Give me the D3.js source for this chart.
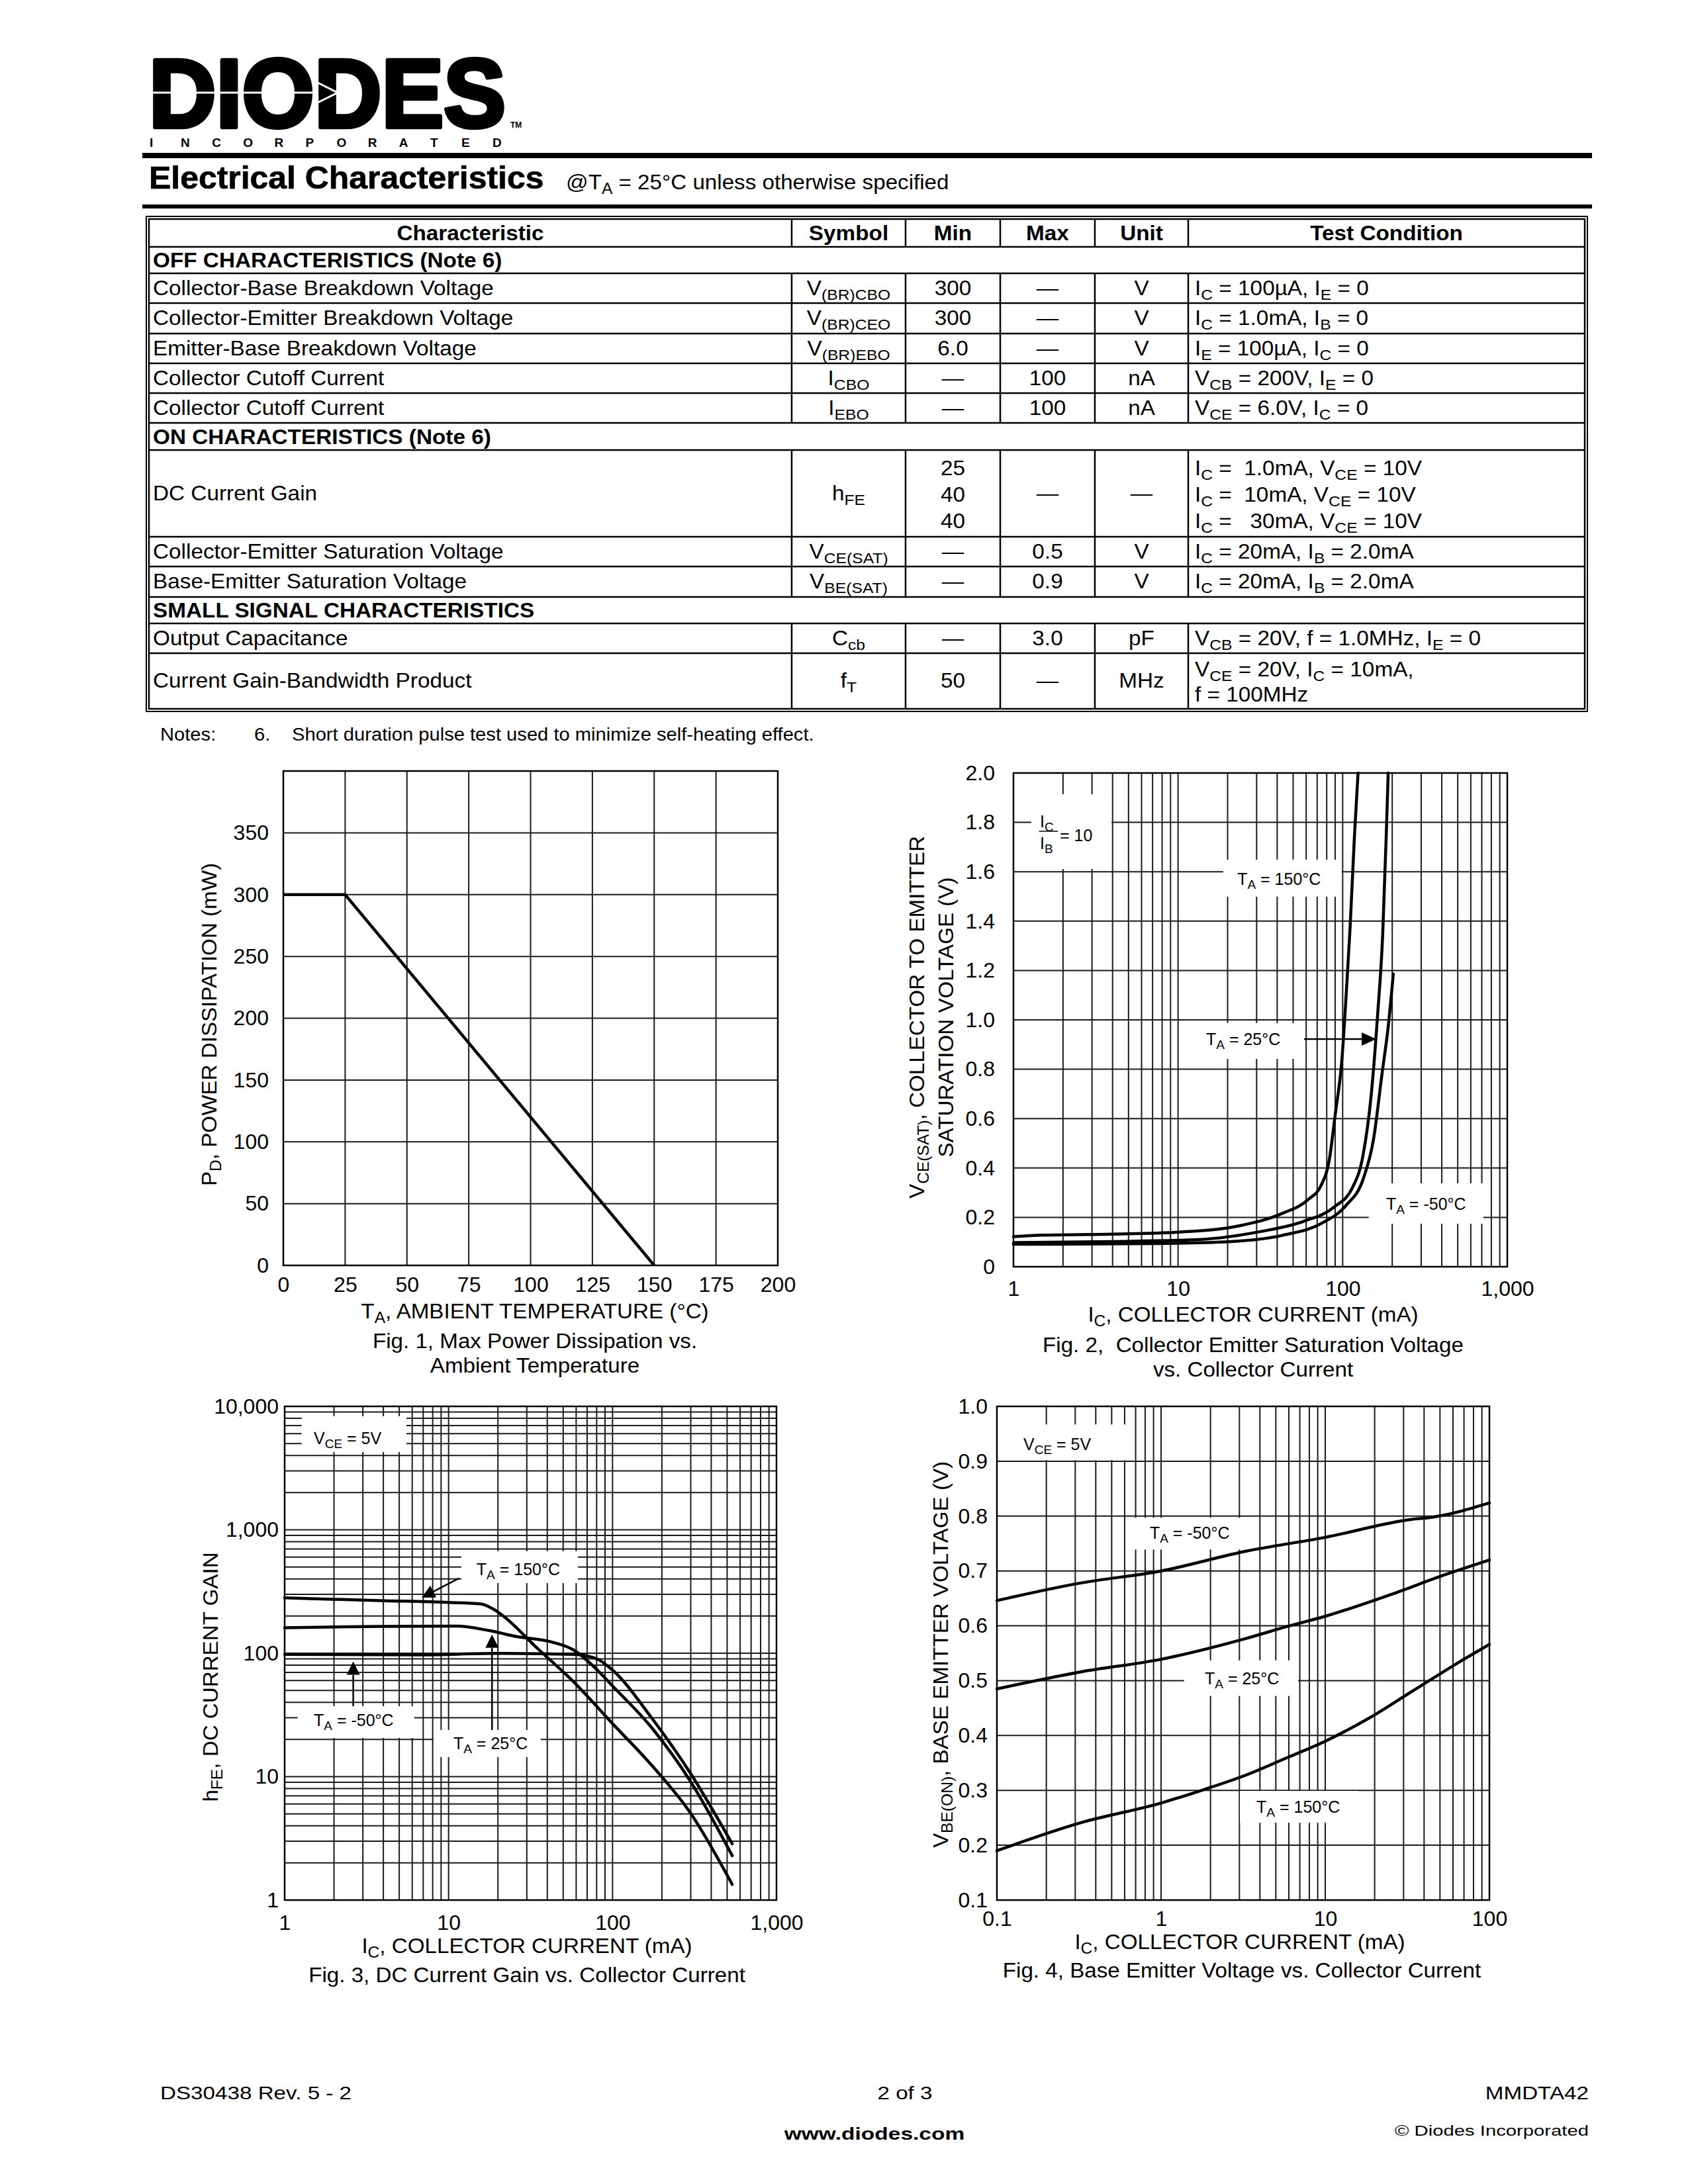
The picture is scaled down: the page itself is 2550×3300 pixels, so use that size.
<!DOCTYPE html>
<html><head><meta charset="utf-8">
<script src="https://cdn.jsdelivr.net/npm/d3@7"></script>
<style>
html,body{margin:0;padding:0;background:#fff;}
svg{display:block;}
text{font-family:"Liberation Sans",Arial,Helvetica,sans-serif;fill:#000;}
</style></head><body>
<svg id="page" width="2550" height="3300"></svg>
<script>
// ---------------- DATA ----------------
const tableHeaders = ["Characteristic","Symbol","Min","Max","Unit","Test Condition"];
const sectionTitles = ["OFF CHARACTERISTICS (Note 6)","ON CHARACTERISTICS (Note 6)","SMALL SIGNAL CHARACTERISTICS"];
const characteristics = ["Collector-Base Breakdown Voltage","Collector-Emitter Breakdown Voltage","Emitter-Base Breakdown Voltage","Collector Cutoff Current","Collector Cutoff Current","DC Current Gain","Collector-Emitter Saturation Voltage","Base-Emitter Saturation Voltage","Output Capacitance","Current Gain-Bandwidth Product"];
const symbols = [["V",["(BR)CBO"]],["V",["(BR)CEO"]],["V",["(BR)EBO"]],["I",["CBO"]],["I",["EBO"]],["h",["FE"]],["V",["CE(SAT)"]],["V",["BE(SAT)"]],["C",["cb"]],["f",["T"]]];
const minValues = [["300"],["300"],["6.0"],["—"],["—"],["25","40","40"],["—"],["—"],["—"],["50"]];
const maxValues = ["—","—","—","100","100","—","0.5","0.9","3.0","—"];
const units = ["V","V","V","nA","nA","—","V","V","pF","MHz"];
const testConditions = [
  [["I",["C"]," = 100µA, I",["E"]," = 0"]],
  [["I",["C"]," = 1.0mA, I",["B"]," = 0"]],
  [["I",["E"]," = 100µA, I",["C"]," = 0"]],
  [["V",["CB"]," = 200V, I",["E"]," = 0"]],
  [["V",["CE"]," = 6.0V, I",["C"]," = 0"]],
  [["I",["C"]," =  1.0mA, V",["CE"]," = 10V"],["I",["C"]," =  10mA, V",["CE"]," = 10V"],["I",["C"]," =   30mA, V",["CE"]," = 10V"]],
  [["I",["C"]," = 20mA, I",["B"]," = 2.0mA"]],
  [["I",["C"]," = 20mA, I",["B"]," = 2.0mA"]],
  [["V",["CB"]," = 20V, f = 1.0MHz, I",["E"]," = 0"]],
  [["V",["CE"]," = 20V, I",["C"]," = 10mA,"],["f = 100MHz"]]
];

// Fig 1
const fig1Temp = [0, 25, 150];
const fig1Power = [300, 300, 0];
const fig1XLabels = [0,25,50,75,100,125,150,175,200];
const fig1YLabels = [0,50,100,150,200,250,300,350];

// Fig 2  (Ic mA, VCE(sat) V)
const fig2Ic150 = [1, 1.5, 4, 10, 24, 43, 62, 74, 83, 90, 99, 105, 111, 118, 124];
const fig2V150  = [0.122, 0.128, 0.132, 0.14, 0.167, 0.216, 0.273, 0.33, 0.435, 0.614, 0.842, 1.10, 1.378, 1.75, 2.0];
const fig2Ic25  = [1, 4, 13.3, 32, 58, 88, 115, 133, 149, 163, 175, 184, 189];
const fig2V25   = [0.0975, 0.102, 0.11, 0.143, 0.184, 0.24, 0.322, 0.452, 0.695, 1.02, 1.345, 1.75, 2.0];
const fig2IcM50 = [1, 7.4, 21, 43, 74, 105, 133, 154, 173, 189, 203];
const fig2VM50  = [0.091, 0.094, 0.102, 0.127, 0.175, 0.249, 0.354, 0.517, 0.777, 0.972, 1.186];
const fig2XLabels = [1, 10, 100, 1000];
const fig2YLabels = [0,0.2,0.4,0.6,0.8,1.0,1.2,1.4,1.6,1.8,2.0];

// Fig 3  (Ic mA, hFE)
const fig3Ic150 = [1, 3.8, 10, 15.7, 18.5, 21.8, 33.7, 58, 100, 173, 298, 537];
const fig3H150  = [281, 267, 258, 251, 230, 198, 114, 58.5, 26.9, 12.4, 5.1, 1.34];
const fig3Ic25  = [1, 3.8, 11.3, 17.5, 25.6, 41.9, 58, 76.3, 100, 173, 298, 537];
const fig3H25   = [161, 165, 166, 153, 137, 124, 106, 78.6, 54.3, 25, 9.2, 2.29];
const fig3IcM50 = [1, 6.6, 19.5, 58, 80.6, 100, 173, 298, 537];
const fig3HM50  = [98, 97, 99.6, 98, 89.8, 73, 30, 10.7, 2.86];
const fig3XLabels = [1, 10, 100, 1000];
const fig3YLabels = [1, 10, 100, 1000, 10000];

// Fig 4  (Ic mA, VBE(on) V)
const fig4IcM50 = [0.1, 0.324, 1.0, 3.3, 9.9, 33.6, 44.9, 100];
const fig4VM50  = [0.646, 0.678, 0.70, 0.736, 0.761, 0.794, 0.798, 0.824];
const fig4Ic25  = [0.1, 0.324, 1.0, 3.3, 5.9, 9.9, 25.1, 53.5, 100];
const fig4V25   = [0.485, 0.516, 0.539, 0.577, 0.599, 0.617, 0.657, 0.693, 0.72];
const fig4Ic150 = [0.1, 0.324, 1.0, 1.85, 3.3, 5.9, 9.9, 18.8, 33.6, 60, 100];
const fig4V150  = [0.19, 0.241, 0.277, 0.302, 0.328, 0.36, 0.389, 0.433, 0.48, 0.527, 0.566];
const fig4XLabels = [0.1, 1, 10, 100];
const fig4YLabels = [0.1,0.2,0.3,0.4,0.5,0.6,0.7,0.8,0.9,1.0];

// ---------------- HELPERS ----------------
const FONT = '"Liberation Sans", Arial, Helvetica, sans-serif';
const svg = d3.select("#page");
svg.append("rect").attr("width",2550).attr("height",3300).attr("fill","#fff");

function rich(parent, x, y, parts, o = {}) {
  const size = o.size || 31, k = o.k || 1;
  let tr = `translate(${x},${y})`;
  if (o.rot) tr += ` rotate(${o.rot})`;
  if (k !== 1) tr += ` scale(${k},1)`;
  const t = parent.append("text").attr("transform", tr)
    .attr("text-anchor", o.anchor || "start")
    .style("font-size", size + "px")
    .style("font-weight", o.bold ? "bold" : "normal")
    .style("white-space", "pre");
  const subSize = o.subSize || Math.round(size * 0.74);
  const shift = o.subShift || Math.round(size * 0.24);
  let down = false;
  parts.forEach(p => {
    const isSub = Array.isArray(p);
    const s = t.append("tspan").text(isSub ? p[0] : p);
    if (isSub) { s.style("font-size", subSize + "px"); if (!down) { s.attr("dy", shift); down = true; } }
    else if (down) { s.attr("dy", -shift); down = false; }
  });
  return t;
}
function arrow(g, x1, y1, x2, y2, len, w) {
  const dx = x2 - x1, dy = y2 - y1, L = Math.hypot(dx, dy), ux = dx / L, uy = dy / L;
  const bx = x2 - ux * len, by = y2 - uy * len;
  g.append("line").attr("x1", x1).attr("y1", y1).attr("x2", bx).attr("y2", by)
    .attr("stroke", "#000").attr("stroke-width", 2.5);
  g.append("path").attr("d", `M${x2},${y2}L${bx - uy * w / 2},${by + ux * w / 2}L${bx + uy * w / 2},${by - ux * w / 2}Z`).attr("fill", "#000");
}

// ---------------- HEADER ----------------
const logo = svg.append("g");
logo.append("text").attr("transform", "translate(225,192) scale(1,2.92)").attr("textLength", 539).attr("lengthAdjust", "spacingAndGlyphs")
  .style("font-size", "50px").style("font-weight", "bold").attr("stroke", "#000").attr("stroke-width", 5)
  .attr("vector-effect", "non-scaling-stroke").attr("stroke-linejoin", "round").text("DIODES");
logo.append("text").attr("x", 771).attr("y", 193).style("font-size", "12px").style("font-weight", "bold").text("TM");
logo.append("text").attr("y", 222).attr("x", d3.range(12).map(i => 226 + i * 47.1).join(" "))
  .style("font-size", "19px").style("font-weight", "bold").text("INCORPORATED");
logo.append("line").attr("x1", 226).attr("x2", 478).attr("y1", 140).attr("y2", 140).attr("stroke", "#fff").attr("stroke-width", 3);
logo.append("path").attr("d", "M478,124L510,140L478,156").attr("fill", "none").attr("stroke", "#fff").attr("stroke-width", 3);
svg.append("rect").attr("x", 215).attr("y", 231).attr("width", 2190).attr("height", 8).attr("fill", "#000");
svg.append("rect").attr("x", 215).attr("y", 309).attr("width", 2190).attr("height", 6).attr("fill", "#000");
rich(svg, 225, 285, ["Electrical Characteristics"], {size: 48, bold: true, k: 1.04}).attr("stroke", "#000").attr("stroke-width", 0.7);
rich(svg, 855, 286, ["@T", ["A"], " = 25°C unless otherwise specified"], {size: 31, k: 1.07});

// ---------------- TABLE ----------------
const colX = [225, 1196, 1368, 1511, 1654, 1795, 2394];
const rowY = [331, 373, 413, 458, 504, 549, 594, 639, 680, 811, 856, 902, 942, 987, 1071];
const sectionRows = [1, 7, 11];
const dataRows = [2, 3, 4, 5, 6, 8, 9, 10, 12, 13];
const tbl = svg.append("g");
const TS = 31, TK = 1.075;
tbl.append("rect").attr("x", 221).attr("y", 327).attr("width", 2398 - 221).attr("height", 1075 - 327)
  .attr("fill", "none").attr("stroke", "#000").attr("stroke-width", 2);
tbl.append("rect").attr("x", 225).attr("y", 331).attr("width", 2394 - 225).attr("height", 1071 - 331)
  .attr("fill", "none").attr("stroke", "#000").attr("stroke-width", 2.5);
tbl.selectAll(".hl").data(rowY.slice(1, -1)).join("line").attr("x1", 225).attr("x2", 2394)
  .attr("y1", d => d).attr("y2", d => d).attr("stroke", "#000").attr("stroke-width", 2.5);
for (let r = 0; r < rowY.length - 1; r++) {
  if (sectionRows.includes(r)) continue;
  colX.slice(1, -1).forEach(cx => tbl.append("line").attr("x1", cx).attr("x2", cx).attr("y1", rowY[r]).attr("y2", rowY[r + 1])
    .attr("stroke", "#000").attr("stroke-width", 2.5));
}
const mid = r => (rowY[r] + rowY[r + 1]) / 2;
const cc = c => (colX[c] + colX[c + 1]) / 2;
tableHeaders.forEach((h, c) => rich(tbl, cc(c), mid(0) + 11, [h], {size: TS, bold: true, k: TK, anchor: "middle"}));
sectionTitles.forEach((s, i) => rich(tbl, 231, mid(sectionRows[i]) + 11, [s], {size: TS, bold: true, k: TK}));
dataRows.forEach((r, i) => {
  const base = mid(r) + 10;
  const lines = (n, sp) => d3.range(n).map(j => base + (j - (n - 1) / 2) * sp);
  const sp = r === 13 ? 38 : 40;
  rich(tbl, 231, base, [characteristics[i]], {size: TS, k: TK});
  rich(tbl, cc(1), base, symbols[i], {size: TS, k: TK, anchor: "middle", subSize: 23, subShift: 7});
  const mins = minValues[i], mb = lines(mins.length, sp);
  mins.forEach((m, j) => rich(tbl, cc(2), mb[j] + (mins.length > 1 ? 2 : 0), [m], {size: TS, k: TK, anchor: "middle"}));
  rich(tbl, cc(3), base, [maxValues[i]], {size: TS, k: TK, anchor: "middle"});
  rich(tbl, cc(4), base, [units[i]], {size: TS, k: TK, anchor: "middle"});
  const tc = testConditions[i], tb = lines(tc.length, sp);
  tc.forEach((t, j) => rich(tbl, 1805, tb[j] + (tc.length > 1 ? 2 : 0), t, {size: TS, k: TK, subSize: 23, subShift: 7}));
});
rich(svg, 242, 1119, ["Notes:"], {size: 27, k: 1.08});
rich(svg, 384, 1119, ["6."], {size: 27, k: 1.08});
rich(svg, 441, 1119, ["Short duration pulse test used to minimize self-heating effect."], {size: 27, k: 1.08});

// ---------------- CHART HELPERS ----------------
function chartBase(x, y, xGrid, yGrid) {
  const g = svg.append("g");
  const [x0, x1] = x.range(), [y0, y1] = y.range();
  g.selectAll(".vg").data(xGrid).join("line").attr("x1", d => x(d)).attr("x2", d => x(d))
    .attr("y1", y0).attr("y2", y1).attr("stroke", "#1a1a1a").attr("stroke-width", 2);
  g.selectAll(".hg").data(yGrid).join("line").attr("y1", d => y(d)).attr("y2", d => y(d))
    .attr("x1", x0).attr("x2", x1).attr("stroke", "#1a1a1a").attr("stroke-width", 2);
  return g;
}
function chartFrame(g, x, y) {
  const [x0, x1] = x.range(), [y0, y1] = y.range();
  g.append("rect").attr("x", x0).attr("y", y1).attr("width", x1 - x0).attr("height", y0 - y1)
    .attr("fill", "none").attr("stroke", "#000").attr("stroke-width", 2.5);
}
function axes(g, x, y, xl, xf, xpad, yl, yf, ypad) {
  const [x0] = x.range(), [y0] = y.range();
  const ax = g.append("g").attr("transform", `translate(0,${y0})`)
    .call(d3.axisBottom(x).tickValues(xl).tickFormat(xf).tickSize(0).tickPadding(xpad));
  const ay = g.append("g").attr("transform", `translate(${x0},0)`)
    .call(d3.axisLeft(y).tickValues(yl).tickFormat(yf).tickSize(0).tickPadding(ypad));
  [ax, ay].forEach(a => { a.select(".domain").remove(); a.attr("font-family", FONT).attr("font-size", 32); a.selectAll("text").attr("fill", "#000"); });
}
function box(g, x, y, xa, xb, ya, yb) {
  g.append("rect").attr("x", x(xa)).attr("y", y(ya)).attr("width", x(xb) - x(xa)).attr("height", y(yb) - y(ya)).attr("fill", "#fff");
}
function curve(g, x, y, xs, ys) {
  const pts = xs.map((v, i) => [v, ys[i]]);
  g.append("path").attr("d", d3.line().x(d => x(d[0])).y(d => y(d[1])).curve(d3.curveMonotoneX)(pts))
    .attr("fill", "none").attr("stroke", "#000").attr("stroke-width", 4.5).attr("stroke-linejoin", "round").attr("stroke-linecap", "round");
}
const LS = 25; // annotation label size

// ---------------- FIG 1 ----------------
{
  const x = d3.scaleLinear([0, 200], [428, 1175]);
  const y = d3.scaleLinear([0, 400], [1912, 1165]);
  const g = chartBase(x, y, d3.range(0, 201, 25), d3.range(0, 401, 50));
  chartFrame(g, x, y);
  g.append("path").attr("d", d3.line().x(d => x(d[0])).y(d => y(d[1]))(fig1Temp.map((t, i) => [t, fig1Power[i]])))
    .attr("fill", "none").attr("stroke", "#000").attr("stroke-width", 4.5);
  axes(g, x, y, fig1XLabels, d3.format("d"), 17, fig1YLabels, d3.format("d"), 22);
  rich(g, 808, 1992, ["T", ["A"], ", AMBIENT TEMPERATURE (°C)"], {anchor: "middle", k: 1.07});
  rich(g, 327, 1548, ["P", ["D"], ", POWER DISSIPATION (mW)"], {anchor: "middle", rot: -90, k: 1.07});
  rich(g, 808, 2037, ["Fig. 1, Max Power Dissipation vs."], {anchor: "middle", k: 1.07});
  rich(g, 808, 2074, ["Ambient Temperature"], {anchor: "middle", k: 1.07});
}

// ---------------- FIG 2 ----------------
{
  const x = d3.scaleLog([1, 1000], [1531, 2277]);
  const y = d3.scaleLinear([0, 2], [1914, 1168]);
  const g = chartBase(x, y, x.ticks(), d3.range(0, 11).map(i => i * 0.2));
  box(g, x, y, 1.284, 3.94, 1.914, 1.611);
  box(g, x, y, 18.8, 98.8, 1.649, 1.499);
  box(g, x, y, 11.1, 54.6, 0.987, 0.842);
  box(g, x, y, 144, 716, 0.338, 0.174);
  chartFrame(g, x, y);
  curve(g, x, y, fig2Ic150, fig2V150);
  curve(g, x, y, fig2Ic25, fig2V25);
  curve(g, x, y, fig2IcM50, fig2VM50);
  axes(g, x, y, fig2XLabels, d3.format(","), 21, fig2YLabels, d => d === 0 ? "0" : d3.format(".1f")(d), 28);
  // IC/IB = 10
  rich(g, x(1.448), y(1.780), ["I", ["C"]], {size: LS});
  g.append("line").attr("x1", x(1.43)).attr("x2", x(1.86)).attr("y1", y(1.764)).attr("y2", y(1.764)).attr("stroke", "#000").attr("stroke-width", 1.5);
  rich(g, x(1.448), y(1.692), ["I", ["B"]], {size: LS});
  rich(g, x(1.912), y(1.725), ["= 10"], {size: LS});
  rich(g, x(22.9), y(1.547), ["T", ["A"], " = 150°C"], {size: LS});
  rich(g, x(14.8), y(0.898), ["T", ["A"], " = 25°C"], {size: LS});
  arrow(g, x(58.3), y(0.922), x(160), y(0.922), 22, 20);
  rich(g, x(183.6), y(0.231), ["T", ["A"], " = -50°C"], {size: LS});
  rich(g, 1893, 1997, ["I", ["C"], ", COLLECTOR CURRENT (mA)"], {anchor: "middle", k: 1.07});
  rich(g, 1396, 1537, ["V", ["CE(SAT)"], ", COLLECTOR TO EMITTER"], {anchor: "middle", rot: -90, k: 1.07});
  rich(g, 1440, 1537, ["SATURATION VOLTAGE (V)"], {anchor: "middle", rot: -90, k: 1.07});
  rich(g, 1893, 2043, ["Fig. 2,  Collector Emitter Saturation Voltage"], {anchor: "middle", k: 1.07});
  rich(g, 1893, 2080, ["vs. Collector Current"], {anchor: "middle", k: 1.07});
}

// ---------------- FIG 3 ----------------
{
  const x = d3.scaleLog([1, 1000], [430, 1173]);
  const y = d3.scaleLog([1, 10000], [2871, 2125]);
  const g = chartBase(x, y, x.ticks(), y.ticks());
  box(g, x, y, 1.27, 5.53, 8318, 4270);
  box(g, x, y, 11.97, 61.5, 670, 370);
  box(g, x, y, 1.2, 6.18, 37.2, 20.6);
  box(g, x, y, 8.1, 36.5, 23.9, 14.4);
  chartFrame(g, x, y);
  curve(g, x, y, fig3Ic150, fig3H150);
  curve(g, x, y, fig3Ic25, fig3H25);
  curve(g, x, y, fig3IcM50, fig3HM50);
  axes(g, x, y, fig3XLabels, d3.format(","), 22, fig3YLabels, d3.format(","), 9);
  rich(g, x(1.505), y(4943), ["V", ["CE"], " = 5V"], {size: LS});
  rich(g, x(14.8), y(430), ["T", ["A"], " = 150°C"], {size: LS});
  arrow(g, x(11.6), y(405.6), x(6.84), y(282), 20, 20);
  rich(g, x(1.505), y(25.7), ["T", ["A"], " = -50°C"], {size: LS});
  arrow(g, x(2.62), y(37.2), x(2.62), y(85.7), 20, 20);
  rich(g, x(10.7), y(16.7), ["T", ["A"], " = 25°C"], {size: LS});
  arrow(g, x(18.4), y(23.9), x(18.4), y(141.8), 20, 20);
  rich(g, 796, 2951, ["I", ["C"], ", COLLECTOR CURRENT (mA)"], {anchor: "middle", k: 1.07});
  rich(g, 329, 2534, ["h", ["FE"], ", DC CURRENT GAIN"], {anchor: "middle", rot: -90, k: 1.07});
  rich(g, 796, 2995, ["Fig. 3, DC Current Gain vs. Collector Current"], {anchor: "middle", k: 1.07});
}

// ---------------- FIG 4 ----------------
{
  const x = d3.scaleLog([0.1, 100], [1506, 2250]);
  const y = d3.scaleLinear([0.1, 1.0], [2871, 2125]);
  const g = chartBase(x, y, x.ticks(), d3.range(1, 11).map(i => i / 10));
  box(g, x, y, 0.1204, 0.611, 0.967, 0.902);
  box(g, x, y, 0.64, 3.41, 0.797, 0.739);
  box(g, x, y, 1.38, 6.84, 0.537, 0.472);
  box(g, x, y, 3.02, 15.8, 0.299, 0.241);
  chartFrame(g, x, y);
  curve(g, x, y, fig4IcM50, fig4VM50);
  curve(g, x, y, fig4Ic25, fig4V25);
  curve(g, x, y, fig4Ic150, fig4V150);
  axes(g, x, y, fig4XLabels, d => d < 1 ? "0.1" : d3.format("d")(d), 16, fig4YLabels, d3.format(".1f"), 14);
  rich(g, x(0.145), y(0.92), ["V", ["CE"], " = 5V"], {size: LS});
  rich(g, x(0.853), y(0.759), ["T", ["A"], " = -50°C"], {size: LS});
  rich(g, x(1.845), y(0.493), ["T", ["A"], " = 25°C"], {size: LS});
  rich(g, x(3.81), y(0.259), ["T", ["A"], " = 150°C"], {size: LS});
  rich(g, 1873, 2945, ["I", ["C"], ", COLLECTOR CURRENT (mA)"], {anchor: "middle", k: 1.07});
  rich(g, 1432, 2500, ["V", ["BE(ON)"], ", BASE EMITTER VOLTAGE (V)"], {anchor: "middle", rot: -90, k: 1.07});
  rich(g, 1876, 2988, ["Fig. 4, Base Emitter Voltage vs. Collector Current"], {anchor: "middle", k: 1.07});
}

// ---------------- FOOTER ----------------
rich(svg, 242, 3172, ["DS30438 Rev. 5 - 2"], {size: 27, k: 1.23});
rich(svg, 1367, 3172, ["2 of 3"], {size: 27, k: 1.23, anchor: "middle"});
rich(svg, 1321, 3233, ["www.diodes.com"], {size: 26, k: 1.29, anchor: "middle", bold: true});
rich(svg, 2400, 3172, ["MMDTA42"], {size: 27, k: 1.23, anchor: "end"});
rich(svg, 2400, 3227, ["© Diodes Incorporated"], {size: 22, k: 1.33, anchor: "end"});
</script>
</body></html>
